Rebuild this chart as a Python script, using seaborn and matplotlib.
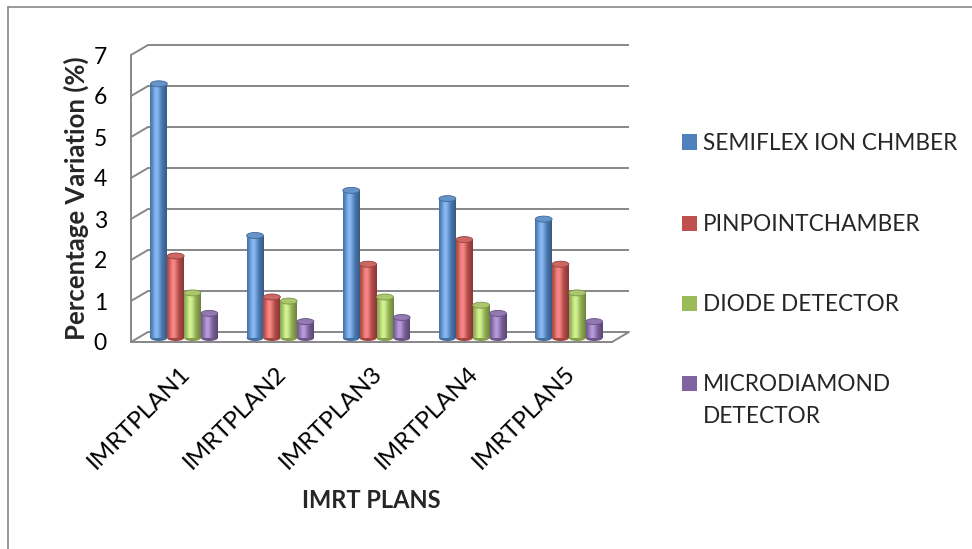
import numpy as np
import pandas as pd
import seaborn as sns
import matplotlib
matplotlib.use("Agg")
import matplotlib.pyplot as plt
from matplotlib.transforms import offset_copy
from matplotlib.patches import Ellipse, Rectangle
from matplotlib.lines import Line2D
from matplotlib.colors import to_rgb

# ---- data -------------------------------------------------------------
plans = ["IMRTPLAN1", "IMRTPLAN2", "IMRTPLAN3", "IMRTPLAN4", "IMRTPLAN5"]
detectors = ["SEMIFLEX ION CHMBER", "PINPOINTCHAMBER", "DIODE DETECTOR",
             "MICRODIAMOND\nDETECTOR"]
semiflex = [6.2, 2.5, 3.6, 3.4, 2.9]
pinpoint = [2.0, 1.0, 1.8, 2.4, 1.8]
diode = [1.1, 0.9, 1.0, 0.8, 1.1]
microdiamond = [0.6, 0.4, 0.5, 0.6, 0.4]
yticks = [0, 1, 2, 3, 4, 5, 6, 7]
colors = ["#4F81BD", "#C0504D", "#9BBB59", "#8064A2"]

df = pd.DataFrame({
    "plan": plans * 4,
    "detector": np.repeat(detectors, len(plans)),
    "value": semiflex + pinpoint + diode + microdiamond,
})

# ---- style ------------------------------------------------------------
sns.set_theme(style="white")
plt.rcParams["font.family"] = ["Lato", "DejaVu Sans"]
GRID = "#878787"

W, H, DPI = 972, 549, 100
fig = plt.figure(figsize=(W / DPI, H / DPI), dpi=DPI)

# front plane of the pseudo-3D box, in pixels
fx0, fx1, fy0, fy1 = 131, 612, 342, 55
ax = fig.add_axes([fx0 / W, 1 - fy0 / H, (fx1 - fx0) / W, (fy0 - fy1) / H])

sns.barplot(data=df, x="plan", y="value", hue="detector", order=plans,
            hue_order=detectors, palette=colors, width=0.7, saturation=1,
            legend=False, ax=ax, zorder=3)

ax.set_xlim(-0.5, len(plans) - 0.5)
ax.set_ylim(0, 7)

# depth offsets (pixels): back wall and the plane the columns stand in
back_dx, back_dy = 17, 10
bar_dx, bar_dy = 5, 4
px_x = (fx1 - fx0) / len(plans)
px_y = (fy0 - fy1) / 7.0
bdx, bdy = back_dx / px_x, back_dy / px_y

# back wall gridlines and the side/floor edges
xl, xr = -0.5, len(plans) - 0.5
for v in yticks:
    ax.plot([xl + bdx, xr + bdx], [v + bdy, v + bdy], color=GRID, lw=1.4,
            clip_on=False, zorder=1, solid_capstyle="butt")
    ax.plot([xl, xl + bdx], [v, v + bdy], color=GRID, lw=1.4,
            clip_on=False, zorder=1)
ax.plot([xr, xr + bdx], [0, bdy], color=GRID, lw=1.4, clip_on=False, zorder=1)

# cylinder shading for the columns
bar_trans = offset_copy(ax.transData, fig=fig, x=bar_dx, y=bar_dy, units="dots")
t = np.linspace(0, 1, 64)
k = np.cos(np.clip((t - 0.38) / 0.62, -1, 1) * np.pi / 2)
cap_h = 6.0 / px_y
for patch in list(ax.patches):
    x0, w, h = patch.get_x(), patch.get_width(), patch.get_height()
    base = np.array(to_rgb(patch.get_facecolor()))
    patch.set_transform(bar_trans)
    patch.set_edgecolor("none")
    patch.set_clip_on(False)
    shade = base[None, :] * (0.70 + 0.30 * k[:, None]) + 0.22 * (k[:, None] ** 6)
    shade = np.clip(shade, 0, 1)[None, :, :]
    # rounded foot
    foot = Ellipse((x0 + w / 2, 0), w, cap_h, transform=bar_trans,
                   facecolor=base * 0.85, edgecolor="none", zorder=2.9,
                   clip_on=False)
    ax.add_patch(foot)
    im = ax.imshow(shade, extent=(x0, x0 + w, 0, h), aspect="auto",
                   interpolation="bilinear", zorder=3.1)
    im.set_transform(bar_trans)
    im.set_clip_path(patch)
    im.set_clip_on(True)
    # top cap
    cap = Ellipse((x0 + w / 2, h), w, cap_h, transform=bar_trans,
                  facecolor=np.clip(base * 0.9 + 0.12, 0, 1),
                  edgecolor=base * 0.8, lw=0.6, zorder=3.2, clip_on=False)
    ax.add_patch(cap)

ax.set_xlim(-0.5, len(plans) - 0.5)
ax.set_ylim(0, 7)

# axes, ticks and labels
for side in ["top", "right"]:
    ax.spines[side].set_visible(False)
for side in ["left", "bottom"]:
    ax.spines[side].set_color(GRID)
    ax.spines[side].set_linewidth(1.4)
    ax.spines[side].set_zorder(1)

ax.set_yticks(yticks)
ax.set_yticklabels([str(v) for v in yticks], fontsize=16.5)
ax.tick_params(axis="y", direction="out", length=4.3, width=1.2,
               color=GRID, pad=13, labelcolor="black")

ax.set_xticks(np.arange(len(plans) + 1) - 0.5)
ax.set_xticklabels([])
ax.tick_params(axis="x", which="major", direction="out", length=4.3,
               width=1.2, color=GRID)
ax.set_xticks(np.arange(len(plans)), minor=True)
ax.set_xticklabels(plans, minor=True, rotation=45, ha="right",
                   rotation_mode="anchor", fontsize=17.5)
ax.tick_params(axis="x", which="minor", length=0, pad=15, labelcolor="black")

ax.set_xlabel("IMRT PLANS", fontsize=17, fontweight="bold", labelpad=11)
ax.set_ylabel("Percentage Variation (%)", fontsize=18.5, fontweight="bold",
              labelpad=3)
ax.grid(False)

# legend
leg_y = [142, 223, 303, 383]
for name, col, yy in zip(detectors, colors, leg_y):
    fig.patches.append(Rectangle((682 / W, 1 - (yy + 7.5) / H), 15 / W,
                                 15 / H, transform=fig.transFigure,
                                 facecolor=col, edgecolor="none"))
    for i, line in enumerate(name.split("\n")):
        fig.text(703 / W, 1 - (yy + 8 + 32 * i) / H, line, fontsize=16.3,
                 va="baseline", ha="left")

# outer chart frame
fig.add_artist(Line2D([7.5 / W, 7.5 / W], [0, 1 - 7 / H], color=GRID, lw=1.2))
fig.add_artist(Line2D([7.5 / W, 1], [1 - 7 / H, 1 - 7 / H], color=GRID, lw=1.2))

fig.savefig("out.png", dpi=DPI)
